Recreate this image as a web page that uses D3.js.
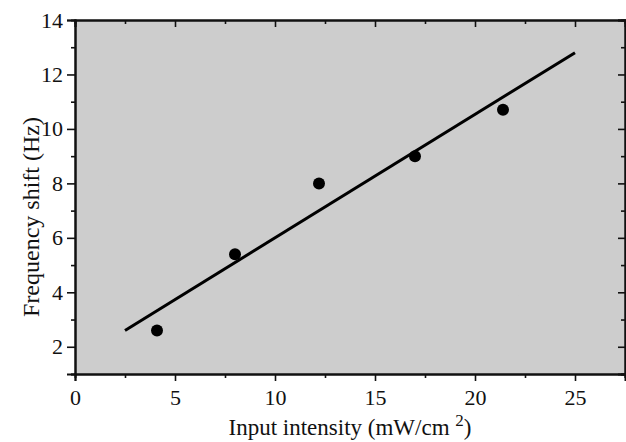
<!DOCTYPE html>
<html>
<head>
<meta charset="utf-8">
<script src="https://d3js.org/d3.v7.min.js"></script>
<style>
 body { margin: 0; background: #fff; }
 svg text { font-family: 'Liberation Serif', 'Times New Roman', Times, serif !important; fill: #111; }
</style>
</head>
<body>
<script>
// measured points
var intensity = [4.1, 8.0, 12.2, 17.0, 21.4];
var shift = [2.6, 5.4, 8.0, 9.0, 10.7];
// linear fit drawn as a straight line
var fitX = [2.5, 25];
var fitY = [2.6, 12.8];
var xTicks = [0, 5, 10, 15, 20, 25];
var yTicks = [2, 4, 6, 8, 10, 12, 14];

var width = 626, height = 442;
var margin = {top: 20, right: 1, bottom: 68, left: 75};
var w = width - margin.left - margin.right,
 h = height - margin.top - margin.bottom;

var x = d3.scaleLinear().domain([0, 27.5]).range([0, w]);
var y = d3.scaleLinear().domain([1, 14]).range([h, 0]);

var svg = d3.select("body").append("svg")
 .attr("width", width)
 .attr("height", height)
 .append("g")
 .attr("transform", "translate(" + margin.left + "," + margin.top + ")");

// grey noisy background like the scanned figure
var defs = svg.append("defs");
var filt = defs.append("filter").attr("id", "grain");
filt.append("feTurbulence").attr("type", "fractalNoise").attr("baseFrequency", 0.9).attr("numOctaves", 1).attr("result", "n");
filt.append("feColorMatrix").attr("in", "n").attr("type", "matrix")
 .attr("values", "0 0 0 0 0.5  0 0 0 0 0.5  0 0 0 0 0.5  0.33 0.33 0.33 0 -0.75");
filt.append("feComposite").attr("in2", "SourceGraphic").attr("operator", "in");

svg.append("rect").attr("width", w).attr("height", h).attr("fill", "#cdcdcd");
svg.append("rect").attr("width", w).attr("height", h).attr("fill", "#cdcdcd").attr("filter", "url(#grain)").attr("opacity", 0.5);

var minorX = d3.range(0, 27.6, 2.5), minorY = d3.range(1, 14.1, 1);

// bottom axis, outward ticks
var bottom = svg.append("g").attr("transform", "translate(0," + h + ")")
 .call(d3.axisBottom(x).tickValues(xTicks).tickSize(7).tickPadding(8).tickFormat(d3.format("d")));
svg.append("g").attr("transform", "translate(0," + h + ")")
 .call(d3.axisBottom(x).tickValues(minorX.filter(function(v) { return v % 5; })).tickSize(4).tickFormat(""));
// left axis, outward ticks
var left = svg.append("g")
 .call(d3.axisLeft(y).tickValues(yTicks).tickSize(8).tickPadding(4).tickFormat(d3.format("d")));
svg.append("g")
 .call(d3.axisLeft(y).tickValues(minorY.filter(function(v) { return v % 2; })).tickSize(4).tickFormat(""));
// top and right, inward ticks
svg.append("g").call(d3.axisTop(x).tickValues(xTicks).tickSize(-7).tickFormat(""));
svg.append("g").call(d3.axisTop(x).tickValues(minorX.filter(function(v) { return v % 5; })).tickSize(-4).tickFormat(""));
svg.append("g").attr("transform", "translate(" + w + ",0)").call(d3.axisRight(y).tickValues(yTicks).tickSize(-7).tickFormat(""));
svg.append("g").attr("transform", "translate(" + w + ",0)").call(d3.axisRight(y).tickValues(minorY.filter(function(v) { return v % 2; })).tickSize(-4).tickFormat(""));

svg.selectAll("g").attr("font-family", null);
svg.selectAll(".domain").attr("stroke", "#111").attr("stroke-width", 2);
svg.selectAll(".tick line").attr("stroke", "#111").attr("stroke-width", 1.6);
svg.selectAll(".tick text").style("font-size", "22px").attr("fill", "#111");
bottom.selectAll(".tick text").attr("dy", "0.71em");

// fit line
var line = d3.line().x(function(d) { return x(d[0]); }).y(function(d) { return y(d[1]); });
svg.append("path")
 .datum(d3.zip(fitX, fitY))
 .attr("d", line)
 .attr("fill", "none")
 .attr("stroke", "#000")
 .attr("stroke-width", 3);

// data points
svg.selectAll("circle.pt")
 .data(d3.zip(intensity, shift))
 .enter().append("circle")
 .attr("class", "pt")
 .attr("cx", function(d) { return x(d[0]); })
 .attr("cy", function(d) { return y(d[1]); })
 .attr("r", 6)
 .attr("fill", "#000");

// axis titles
var xt = svg.append("text")
 .attr("x", 275)
 .attr("y", h + 61)
 .attr("text-anchor", "middle")
 .style("font-size", "23px");
xt.append("tspan").text("Input intensity (mW/cm ");
xt.append("tspan").attr("dy", -9).style("font-size", "17px").text("2");
xt.append("tspan").attr("dy", 9).text(")");

svg.append("text")
 .attr("transform", "translate(-36," + (h / 2 + 20) + ") rotate(-90)")
 .attr("text-anchor", "middle")
 .style("font-size", "24px")
 .text("Frequency shift (Hz)");
</script>
</body>
</html>
